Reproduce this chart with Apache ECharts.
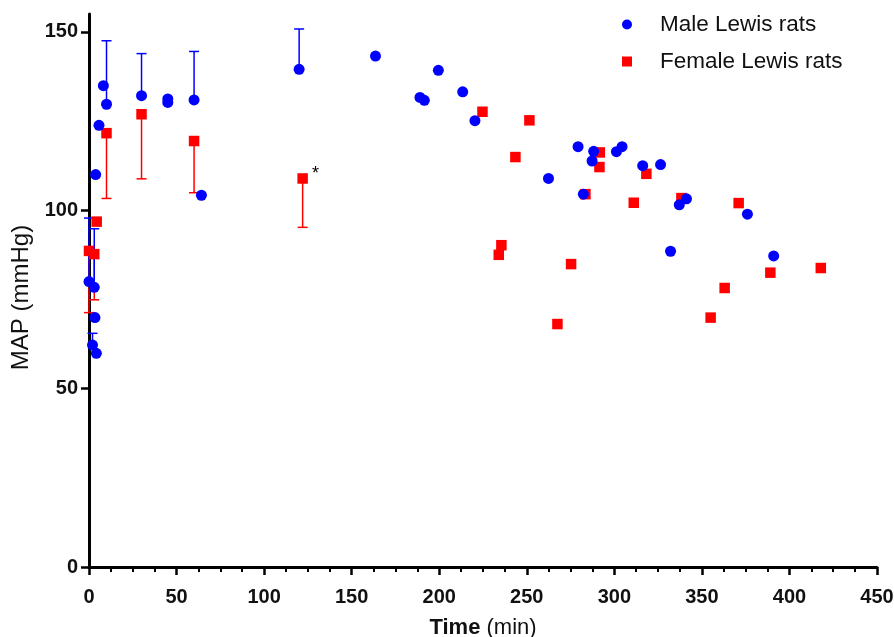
<!DOCTYPE html>
<html>
<head>
<meta charset="utf-8">
<script src="https://cdn.jsdelivr.net/npm/echarts@6/dist/echarts.min.js"></script>
<style>
  html, body { margin: 0; padding: 0; background: #fff; }
  #chart { width: 894px; height: 637px; }
</style>
</head>
<body>
<div id="chart"></div>
<script>
// Mean arterial pressure over time (minutes)
const maleTime = [0, 2, 3, 3.4, 3.8, 4.2, 5.7, 8.2, 10, 30, 45, 45, 60, 64.2, 120,
  163.6, 189, 191.5, 199.5, 213.4, 220.4, 262.4, 279.3, 282.3, 287.3, 288.2,
  301.2, 304.4, 316.2, 326.4, 332.1, 337.1, 341.2, 376, 391];
const maleMAP = [80, 62.2, 78.4, 69.9, 110, 59.9, 123.8, 134.9, 129.7, 132.1, 131.2, 130.2, 130.9, 104.2, 139.5,
  143.2, 131.6, 130.8, 139.2, 133.2, 125.1, 108.9, 117.8, 104.5, 113.8, 116.5,
  116.4, 117.8, 112.5, 112.8, 88.5, 101.5, 103.2, 98.9, 87.2];

const femaleTime = [0, 3, 4.4, 10, 30, 60, 122, 224.7, 234, 235.5, 243.5, 251.5,
  267.5, 275.3, 283.5, 291.7, 291.5, 311.1, 318.3, 338.3, 355, 363, 371, 389.1, 417.9];
const femaleMAP = [88.6, 87.7, 96.8, 121.6, 126.9, 119.4, 108.9, 127.6, 87.5, 90.2, 114.9, 125.2,
  68.1, 84.9, 104.5, 116.2, 112.1, 102.1, 110.2, 103.4, 69.9, 78.2, 102.0, 82.5, 83.8];

// Error bars: male drawn upward, female drawn downward
const maleErrTime = [0, 2, 3, 10, 30, 60, 120];
const maleErrMean = [80, 62.2, 78.4, 129.7, 132.1, 130.9, 139.5];
const maleErrEnd  = [97.8, 65.5, 94.8, 147.5, 143.9, 144.5, 150.8];

const femaleErrTime = [0, 3, 10, 30, 60, 122];
const femaleErrMean = [88.6, 87.7, 121.6, 126.9, 119.4, 108.9];
const femaleErrEnd  = [71.3, 74.9, 103.3, 108.8, 104.9, 95.2];

// Time point marked as significant
const starTime = 122;

const xTicks = [0, 50, 100, 150, 200, 250, 300, 350, 400, 450];
const yTicks = [0, 50, 100, 150];

const BLUE = '#0000ff';
const RED = '#ff0000';
const FONT = "'Liberation Sans', Arial, Helvetica, sans-serif";

function zip(a, b) { return a.map((v, i) => [v, b[i]]); }
function zip3(a, b, c) { return a.map((v, i) => [v, b[i], c[i]]); }

function errorBar(color) {
  return function (params, api) {
    const t = api.value(0), m = api.value(1), e = api.value(2);
    const p1 = api.coord([t, m]);
    const p2 = api.coord([t, e]);
    const half = 5;
    const style = { stroke: color, lineWidth: 1.5 };
    return {
      type: 'group',
      children: [
        { type: 'line', shape: { x1: p1[0], y1: p1[1], x2: p2[0], y2: p2[1] }, style: style },
        { type: 'line', shape: { x1: p2[0] - half, y1: p2[1], x2: p2[0] + half, y2: p2[1] }, style: style }
      ]
    };
  };
}

const femaleData = zip(femaleTime, femaleMAP).map(function (d) {
  if (d[0] === starTime) {
    return {
      value: d,
      label: {
        show: true, formatter: '*', position: 'right', distance: 4, offset: [0, -4],
        color: '#000', fontSize: 18, fontFamily: FONT
      }
    };
  }
  return d;
});

const chart = echarts.init(document.getElementById('chart'), null, { renderer: 'canvas' });
chart.setOption({
  animation: false,
  backgroundColor: '#fff',
  grid: { left: 89, right: 17, top: 14, bottom: 70, containLabel: false, outerBoundsMode: 'none' },
  legend: {
    orient: 'vertical',
    left: 617,
    top: 8,
    itemWidth: 10,
    itemHeight: 10,
    itemGap: 14,
    data: [
      { name: 'Male Lewis rats', icon: 'circle' },
      { name: 'Female Lewis rats', icon: 'rect' }
    ],
    textStyle: { fontSize: 22.5, color: '#111', fontFamily: FONT, padding: [0, 0, 0, 23] }
  },
  xAxis: {
    type: 'value',
    min: 0, max: 450, interval: 50,
    name: '{b|Time} (min)',
    nameLocation: 'middle',
    nameGap: 50,
    nameTextStyle: {
      fontSize: 22, color: '#111', fontFamily: FONT,
      rich: { b: { fontSize: 22, fontWeight: 'bold', color: '#111', fontFamily: FONT } }
    },
    axisLine: { show: true, onZero: false, lineStyle: { color: '#000', width: 3 } },
    axisTick: { show: true, length: 8, lineStyle: { color: '#000', width: 2.5 }, customValues: xTicks },
    minorTick: { show: true, splitNumber: 4, length: 5, lineStyle: { color: '#000', width: 2 } },
    axisLabel: { margin: 20, fontSize: 20, fontWeight: 'bold', color: '#111', fontFamily: FONT, customValues: xTicks },
    splitLine: { show: false }
  },
  yAxis: {
    type: 'value',
    min: 0, max: 155, interval: 50,
    name: 'MAP (mmHg)',
    nameLocation: 'middle',
    nameGap: 45,
    nameRotate: 90,
    nameTextStyle: { fontSize: 24, color: '#111', fontFamily: FONT, padding: [0, 14, 0, 0] },
    axisLine: { show: true, onZero: false, lineStyle: { color: '#000', width: 3 } },
    axisTick: { show: true, length: 8, lineStyle: { color: '#000', width: 2.5 }, customValues: yTicks },
    axisLabel: { margin: 11, fontSize: 20, fontWeight: 'bold', color: '#111', fontFamily: FONT, customValues: yTicks },
    splitLine: { show: false }
  },
  series: [
    {
      name: 'Female error',
      type: 'custom',
      renderItem: errorBar(RED),
      encode: { x: 0, y: [1, 2] },
      data: zip3(femaleErrTime, femaleErrMean, femaleErrEnd),
      z: 2,
      clip: false
    },
    {
      name: 'Male error',
      type: 'custom',
      renderItem: errorBar(BLUE),
      encode: { x: 0, y: [1, 2] },
      data: zip3(maleErrTime, maleErrMean, maleErrEnd),
      z: 2,
      clip: false
    },
    {
      name: 'Female Lewis rats',
      type: 'scatter',
      symbol: 'rect',
      symbolSize: 10.5,
      itemStyle: { color: RED, opacity: 1 },
      data: femaleData,
      z: 3
    },
    {
      name: 'Male Lewis rats',
      type: 'scatter',
      symbol: 'circle',
      symbolSize: 11,
      itemStyle: { color: BLUE, opacity: 1 },
      data: zip(maleTime, maleMAP),
      z: 4
    }
  ]
});
</script>
</body>
</html>
